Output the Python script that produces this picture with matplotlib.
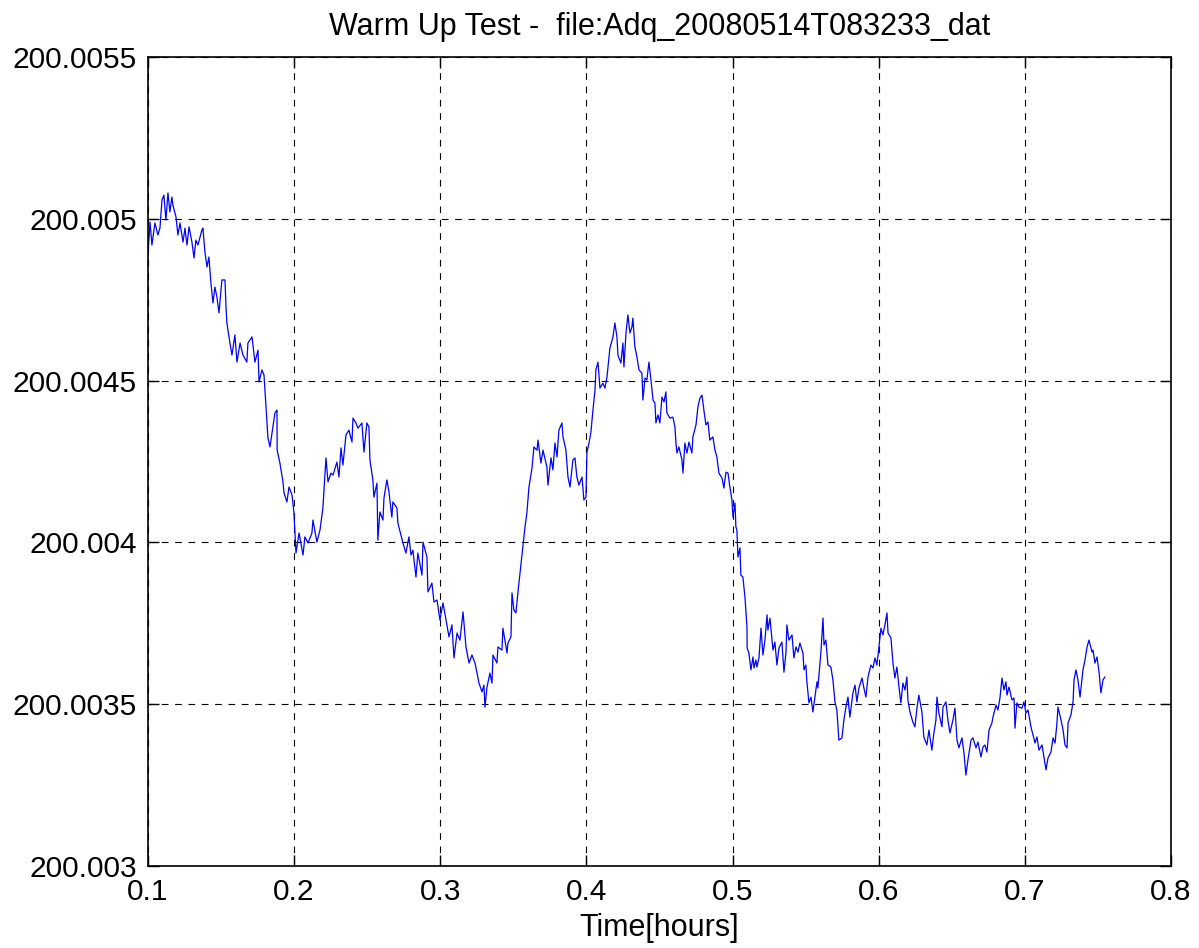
import numpy as np
import matplotlib
matplotlib.use("Agg")
import matplotlib.pyplot as plt

plt.rcParams["font.family"] = ["Liberation Sans", "DejaVu Sans"]

# Elapsed time of each sample, in hours
time_hours = [
    0.1000, 0.1014, 0.1027, 0.1048, 0.1068, 0.1082, 0.1096, 0.1109, 0.1123, 0.1137,
    0.1150, 0.1164, 0.1171, 0.1192, 0.1205, 0.1219, 0.1240, 0.1253, 0.1267, 0.1281,
    0.1301, 0.1315, 0.1328, 0.1342, 0.1369, 0.1376, 0.1390, 0.1404, 0.1417, 0.1431,
    0.1445, 0.1458, 0.1472, 0.1486, 0.1506, 0.1527, 0.1534, 0.1540, 0.1561, 0.1575,
    0.1595, 0.1609, 0.1630, 0.1650, 0.1677, 0.1684, 0.1712, 0.1732, 0.1753, 0.1760,
    0.1780, 0.1794, 0.1808, 0.1821, 0.1835, 0.1855, 0.1869, 0.1883, 0.1884, 0.1903,
    0.1924, 0.1931, 0.1951, 0.1965, 0.1986, 0.1999, 0.2013, 0.2034, 0.2061, 0.2074,
    0.2095, 0.2122, 0.2129, 0.2156, 0.2177, 0.2197, 0.2218, 0.2232, 0.2252, 0.2266,
    0.2293, 0.2307, 0.2321, 0.2334, 0.2355, 0.2375, 0.2396, 0.2403, 0.2423, 0.2437,
    0.2464, 0.2478, 0.2498, 0.2512, 0.2519, 0.2539, 0.2546, 0.2567, 0.2573, 0.2587,
    0.2608, 0.2615, 0.2635, 0.2649, 0.2669, 0.2676, 0.2704, 0.2710, 0.2731, 0.2745,
    0.2765, 0.2786, 0.2800, 0.2813, 0.2834, 0.2847, 0.2875, 0.2882, 0.2909, 0.2916,
    0.2943, 0.2957, 0.2978, 0.2998, 0.3019, 0.3046, 0.3060, 0.3080, 0.3094, 0.3115,
    0.3135, 0.3156, 0.3176, 0.3197, 0.3217, 0.3238, 0.3252, 0.3265, 0.3286, 0.3299,
    0.3306, 0.3320, 0.3340, 0.3354, 0.3361, 0.3388, 0.3395, 0.3422, 0.3429, 0.3457,
    0.3463, 0.3484, 0.3491, 0.3504, 0.3518, 0.3532, 0.3552, 0.3566, 0.3580, 0.3593,
    0.3607, 0.3628, 0.3641, 0.3662, 0.3669, 0.3689, 0.3703, 0.3730, 0.3737, 0.3758,
    0.3771, 0.3785, 0.3799, 0.3812, 0.3833, 0.3840, 0.3860, 0.3874, 0.3888, 0.3908,
    0.3922, 0.3935, 0.3949, 0.3970, 0.3983, 0.3997, 0.4004, 0.4018, 0.4031, 0.4045,
    0.4059, 0.4065, 0.4079, 0.4093, 0.4113, 0.4127, 0.4141, 0.4161, 0.4182, 0.4195,
    0.4209, 0.4216, 0.4236, 0.4250, 0.4257, 0.4271, 0.4284, 0.4298, 0.4312, 0.4318,
    0.4332, 0.4346, 0.4360, 0.4380, 0.4387, 0.4401, 0.4414, 0.4428, 0.4442, 0.4456,
    0.4469, 0.4476, 0.4490, 0.4503, 0.4517, 0.4531, 0.4544, 0.4551, 0.4572, 0.4592,
    0.4606, 0.4613, 0.4620, 0.4633, 0.4654, 0.4661, 0.4674, 0.4688, 0.4702, 0.4722,
    0.4729, 0.4750, 0.4763, 0.4777, 0.4791, 0.4804, 0.4818, 0.4832, 0.4845, 0.4866,
    0.4880, 0.4893, 0.4907, 0.4928, 0.4941, 0.4955, 0.4969, 0.4982, 0.4996, 0.5003,
    0.5017, 0.5023, 0.5030, 0.5037, 0.5051, 0.5057, 0.5071, 0.5085, 0.5099, 0.5100,
    0.5112, 0.5126, 0.5140, 0.5147, 0.5160, 0.5167, 0.5181, 0.5195, 0.5208, 0.5222,
    0.5236, 0.5242, 0.5256, 0.5277, 0.5290, 0.5304, 0.5318, 0.5338, 0.5352, 0.5366,
    0.5372, 0.5386, 0.5407, 0.5420, 0.5434, 0.5448, 0.5461, 0.5482, 0.5489, 0.5502,
    0.5509, 0.5523, 0.5537, 0.5550, 0.5564, 0.5578, 0.5584, 0.5605, 0.5619, 0.5626,
    0.5639, 0.5653, 0.5673, 0.5687, 0.5701, 0.5714, 0.5728, 0.5749, 0.5762, 0.5776,
    0.5790, 0.5803, 0.5824, 0.5838, 0.5851, 0.5865, 0.5886, 0.5899, 0.5913, 0.5927,
    0.5947, 0.5961, 0.5975, 0.5988, 0.6002, 0.6016, 0.6029, 0.6043, 0.6057, 0.6064,
    0.6084, 0.6098, 0.6111, 0.6125, 0.6139, 0.6152, 0.6166, 0.6180, 0.6193, 0.6200,
    0.6214, 0.6234, 0.6248, 0.6262, 0.6275, 0.6296, 0.6309, 0.6330, 0.6344, 0.6364,
    0.6378, 0.6392, 0.6399, 0.6412, 0.6433, 0.6440, 0.6460, 0.6474, 0.6488, 0.6508,
    0.6522, 0.6536, 0.6549, 0.6570, 0.6584, 0.6597, 0.6611, 0.6632, 0.6645, 0.6666,
    0.6679, 0.6700, 0.6714, 0.6727, 0.6741, 0.6755, 0.6775, 0.6782, 0.6803, 0.6816,
    0.6830, 0.6844, 0.6857, 0.6871, 0.6878, 0.6892, 0.6912, 0.6926, 0.6933, 0.6946,
    0.6960, 0.6981, 0.6994, 0.7008, 0.7022, 0.7042, 0.7056, 0.7070, 0.7083, 0.7097,
    0.7118, 0.7131, 0.7145, 0.7159, 0.7179, 0.7193, 0.7207, 0.7220, 0.7227, 0.7248,
    0.7262, 0.7275, 0.7289, 0.7296, 0.7316, 0.7330, 0.7337, 0.7350, 0.7364, 0.7378,
    0.7398, 0.7412, 0.7426, 0.7439, 0.7460, 0.7467, 0.7480, 0.7494, 0.7508, 0.7521,
    0.7535, 0.7548,
]

# Reading above the base level, in units of 1e-6
reading_offset = [
    1888, 1990, 1919, 1987, 1950, 1971, 2058, 2073, 1996, 2080,
    2021, 2067, 2042, 2005, 1950, 1987, 1928, 1971, 1919, 1975,
    1928, 1879, 1934, 1919, 1965, 1971, 1897, 1851, 1882, 1801,
    1740, 1789, 1758, 1709, 1811, 1811, 1727, 1678, 1616, 1579,
    1641, 1557, 1616, 1579, 1557, 1616, 1635, 1557, 1594, 1496,
    1533, 1517, 1418, 1323, 1295, 1357, 1400, 1409, 1285, 1245,
    1187, 1153, 1125, 1171, 1146, 1091, 967, 1029, 961, 1017,
    998, 1029, 1069, 1001, 1038, 1106, 1261, 1187, 1214, 1208,
    1248, 1202, 1292, 1239, 1332, 1347, 1310, 1384, 1369, 1353,
    1369, 1279, 1369, 1357, 1255, 1193, 1140, 1183, 1007, 1094,
    1069, 1137, 1193, 1156, 1078, 1125, 1106, 1060, 1023, 998,
    967, 1017, 961, 976, 893, 967, 899, 1001, 955, 847,
    874, 816, 822, 760, 813, 745, 708, 745, 643, 720,
    698, 785, 677, 627, 652, 627, 596, 565, 538, 559,
    491, 553, 596, 565, 652, 627, 677, 667, 735, 658,
    689, 708, 844, 791, 782, 847, 930, 986, 1048, 1091,
    1171, 1230, 1295, 1285, 1316, 1245, 1285, 1233, 1177, 1261,
    1224, 1307, 1264, 1347, 1369, 1326, 1285, 1202, 1171, 1255,
    1261, 1202, 1177, 1202, 1131, 1140, 1279, 1307, 1341, 1409,
    1471, 1533, 1557, 1477, 1492, 1477, 1511, 1601, 1635, 1678,
    1635, 1579, 1554, 1616, 1542, 1647, 1703, 1647, 1666, 1693,
    1604, 1573, 1533, 1523, 1440, 1508, 1502, 1557, 1502, 1440,
    1431, 1369, 1394, 1369, 1449, 1434, 1465, 1400, 1384, 1387,
    1357, 1307, 1276, 1295, 1255, 1214, 1307, 1276, 1310, 1276,
    1326, 1363, 1418, 1446, 1455, 1409, 1363, 1372, 1316, 1326,
    1285, 1264, 1214, 1199, 1168, 1217, 1214, 1171, 1131, 1078,
    1122, 1048, 1038, 955, 983, 899, 893, 831, 739, 674,
    658, 606, 646, 612, 637, 615, 643, 735, 652, 698,
    776, 729, 766, 667, 692, 621, 674, 692, 599, 661,
    745, 698, 714, 643, 677, 661, 689, 658, 606, 621,
    569, 504, 522, 476, 522, 569, 550, 661, 766, 683,
    698, 621, 615, 575, 507, 482, 389, 396, 451, 491,
    522, 460, 535, 559, 507, 550, 581, 550, 522, 584,
    621, 612, 643, 621, 677, 735, 714, 745, 782, 720,
    705, 627, 581, 615, 553, 504, 565, 544, 584, 513,
    476, 445, 430, 488, 528, 476, 399, 374, 420, 358,
    411, 451, 522, 473, 430, 491, 507, 451, 411, 451,
    488, 389, 365, 396, 349, 281, 328, 389, 396, 365,
    383, 337, 368, 374, 352, 420, 442, 460, 497, 482,
    519, 581, 544, 569, 528, 553, 513, 519, 426, 504,
    491, 488, 507, 473, 482, 430, 405, 380, 399, 358,
    374, 337, 297, 334, 352, 396, 380, 442, 491, 451,
    420, 374, 365, 442, 467, 507, 575, 606, 575, 522,
    606, 637, 677, 698, 661, 667, 627, 646, 599, 535,
    575, 584,
]

BASE = 200.003
x_ticks = [0.1, 0.2, 0.3, 0.4, 0.5, 0.6, 0.7, 0.8]
x_tick_labels = ["0.1", "0.2", "0.3", "0.4", "0.5", "0.6", "0.7", "0.8"]
y_ticks = [200.003, 200.0035, 200.004, 200.0045, 200.005, 200.0055]
y_tick_labels = ["200.003", "200.0035", "200.004", "200.0045", "200.005", "200.0055"]

t = np.array(time_hours)
y = BASE + np.array(reading_offset) * 1e-6

fig = plt.figure(figsize=(11.99, 9.48), dpi=100)
ax = fig.add_axes([0.1234, 0.0865, 0.8532, 0.8534])

ax.plot(t, y, color="#0000ff", linewidth=0.9)

ax.set_xlim(0.1, 0.8)
ax.set_ylim(200.003, 200.0055)
ax.set_xticks(x_ticks)
ax.set_xticklabels(x_tick_labels)
ax.set_yticks(y_ticks)
ax.set_yticklabels(y_tick_labels)

ax.tick_params(direction="in", length=8, width=1, labelsize=21.5,
               top=True, right=True)
ax.tick_params(axis="y", pad=8)
ax.tick_params(axis="x", pad=8.5)
ax.grid(True, color="black", linestyle=(0, (6, 6)), linewidth=0.8)
for s in ax.spines.values():
    s.set_linewidth(1.2)

ax.set_xlabel("Time[hours]", fontsize=22, labelpad=5)
ax.set_title("Warm Up Test -  file:Adq_20080514T083233_dat", fontsize=22, pad=15.5)

fig.savefig("out.png", dpi=100)
